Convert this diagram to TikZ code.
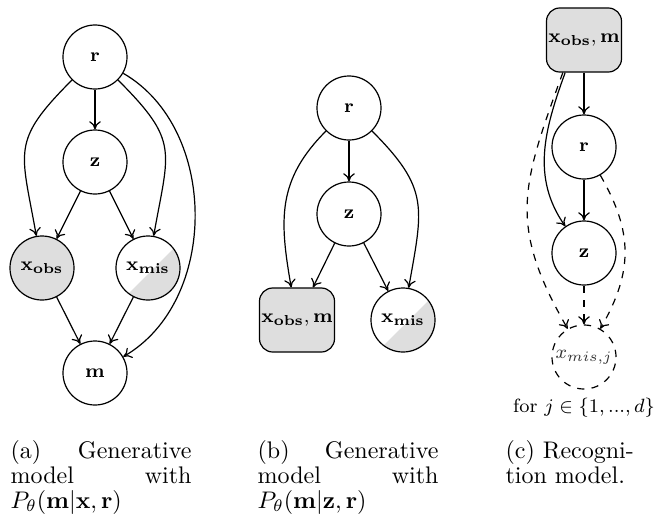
\documentclass[tikz,border=0pt]{standalone}
\usetikzlibrary{calc,arrows.meta}
\begin{document}
\begin{tikzpicture}[x=0.41667pt, y=-0.41667pt, line width=0.5pt,
  var/.style={circle, draw, minimum size=26.67pt, inner sep=0pt, font=\footnotesize},
  obs/.style={var, fill=black!13},
  obsbox/.style={rectangle, rounded corners=5.5pt, draw, fill=black!13, minimum width=31.25pt, minimum height=26.67pt, inner sep=0pt, font=\footnotesize},
  halfobs/.style={var, path picture={\fill[black!13] ([yshift=-2.5pt]path picture bounding box.south west) -- ([yshift=-2.5pt]path picture bounding box.north east) -- ([xshift=10pt,yshift=-10pt]path picture bounding box.south east) -- cycle;}},
  edge/.style={-{To[length=3.4pt,width=4.8pt]}},
  dedge/.style={-{To[length=3.4pt,width=4.8pt]}, dashed},
  captext/.style={anchor=base west, inner sep=0pt, font=\normalsize},
]
\useasboundingbox (0,0) rectangle (659,516);

% (a)
\node[var] (ra) at (95,57) {$\mathbf{r}$};
\node[var] (za) at (95,162) {$\mathbf{z}$};
\node[obs] (xoa) at (42,268) {$\mathbf{x_{obs}}$};
\node[halfobs] (xma) at (148,268) {$\mathbf{x_{mis}}$};
\node[var] (ma) at (95,373) {$\mathbf{m}$};
\draw[edge] (ra) -- (za);
\draw[edge] (za) -- (xoa);
\draw[edge] (za) -- (xma);
\draw[edge] (xoa) -- (ma);
\draw[edge] (xma) -- (ma);
\draw[edge] (ra) to[out=-135,in=100,looseness=1.4] (xoa);
\draw[edge] (ra) to[out=-45,in=80,looseness=1.4] (xma);
\draw[edge] (ra) to[out=-30,in=30] (ma);

% (b)
\node[var] (rb) at (349,108) {$\mathbf{r}$};
\node[var] (zb) at (349,214) {$\mathbf{z}$};
\node[obsbox] (xob) at (297,320) {$\mathbf{x_{obs}, m}$};
\node[halfobs] (xmb) at (403,320) {$\mathbf{x_{mis}}$};
\draw[edge] (rb) -- (zb);
\draw[edge] (zb) -- (xob);
\draw[edge] (zb) -- (xmb);
\draw[edge] (rb) to[out=-135,in=100,looseness=1.1] (xob);
\draw[edge] (rb) to[out=-45,in=80,looseness=1.3] (xmb);

% (c)
\node[obsbox] (xoc) at (584,40) {$\mathbf{x_{obs}, m}$};
\node[var] (rc) at (584,147) {$\mathbf{r}$};
\node[var] (zc) at (584,253) {$\mathbf{z}$};
\node[var, dashed] (xjc) at (584,357) {\color{black!80}$x_{mis,j}$};
\node[font=\footnotesize, anchor=base, inner sep=0pt] (forj) at (584,412) {for $j \in \{1, ..., d\}$};
\draw[edge] (xoc) -- (rc);
\draw[edge] (rc) -- (zc);
\draw[dedge] (zc) -- (xjc);
\draw[edge] (xoc.-120) to[out=-110,in=125] (zc);
\draw[dedge] (xoc.-123) to[out=-110,in=120,looseness=1.2] (xjc);
\draw[dedge] (rc) to[out=-60,in=60,looseness=1.1] (xjc);

% captions
\node[captext] (capa1) at (10,458) {\hbox to 75.4pt{(a)\hfill Generative}};
\node[captext] (capa2) at (10,483) {\hbox to 75.4pt{model\hfill with}};
\node[captext] (capa3) at (10,508) {$P_\theta(\mathbf{m}|\mathbf{x},\mathbf{r})$};
\node[captext] (capb1) at (257,458) {\hbox to 75.4pt{(b)\hfill Generative}};
\node[captext] (capb2) at (257,483) {\hbox to 75.4pt{model\hfill with}};
\node[captext] (capb3) at (257,508) {$P_\theta(\mathbf{m}|\mathbf{z},\mathbf{r})$};
\node[captext] (capc1) at (505,458) {(c) Recogni-};
\node[captext] (capc2) at (505,483) {tion model.};
\end{tikzpicture}
\end{document}
